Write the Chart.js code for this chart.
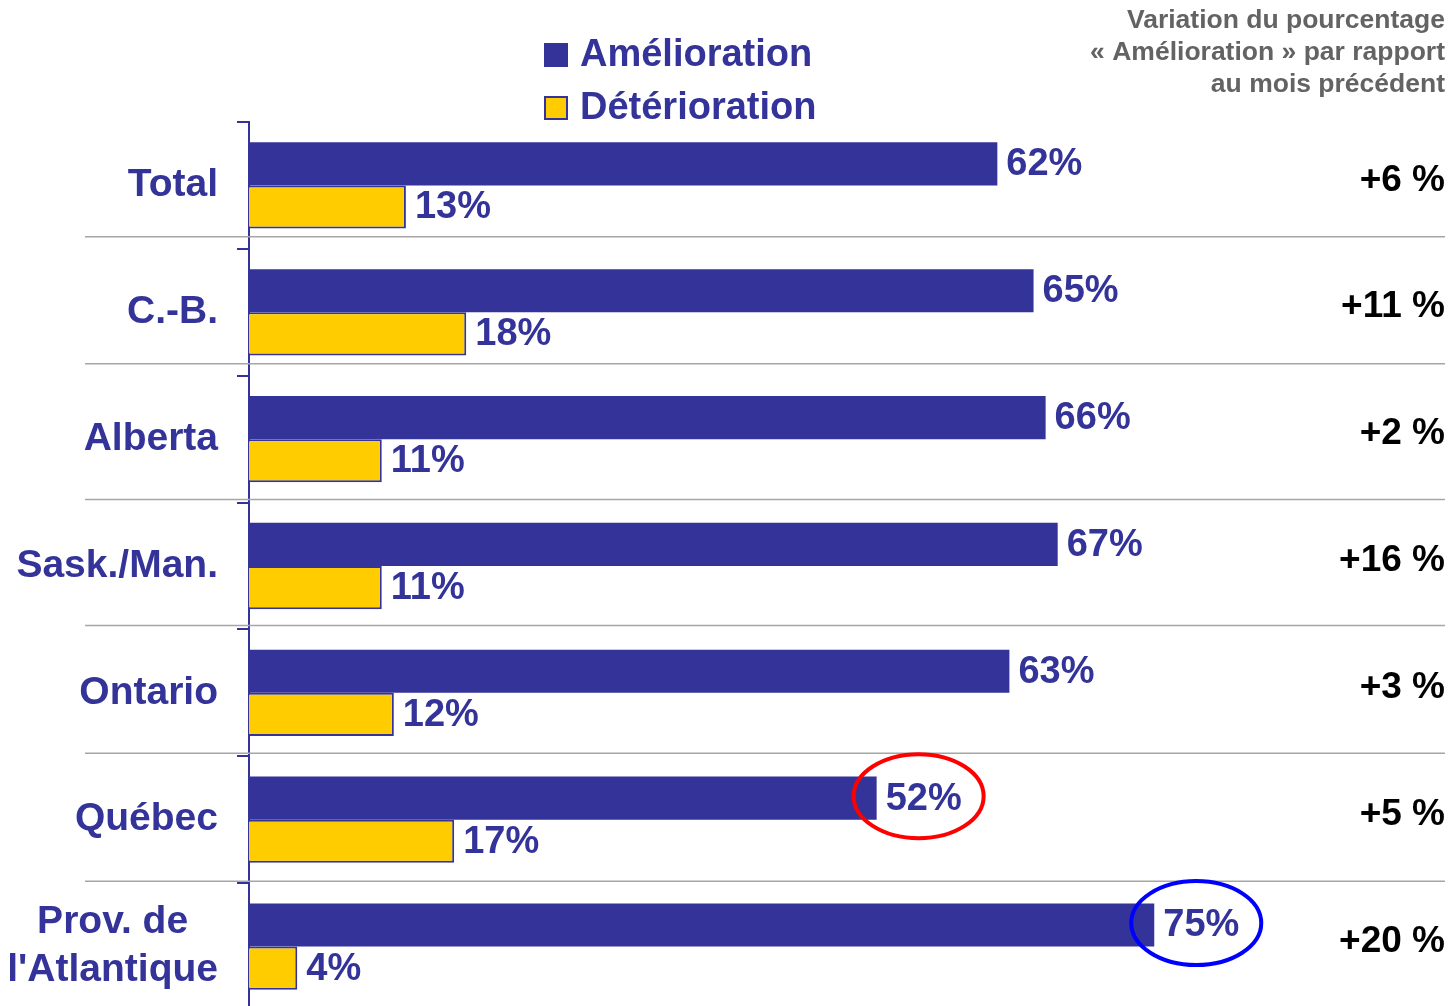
<!DOCTYPE html>
<html>
<head>
<meta charset="utf-8">
<script src="https://cdn.jsdelivr.net/npm/chart.js@4"></script>
<style>
  html, body { margin: 0; padding: 0; background: #fff; overflow: hidden; }
  canvas { display: block; }
</style>
</head>
<body>
<canvas id="chart" width="1456" height="1010"></canvas>
<script>
// data
const categories = ['Total', 'C.-B.', 'Alberta', 'Sask./Man.', 'Ontario', 'Québec', ['Prov. de', "l'Atlantique"]];
const amelioration = [62, 65, 66, 67, 63, 52, 75];
const deterioration = [13, 18, 11, 11, 12, 17, 4];
const variation = ['+6 %', '+11 %', '+2 %', '+16 %', '+3 %', '+5 %', '+20 %'];
const circled = [null, null, null, null, null, '#ff0000', '#0000ff'];
const titleLines = ['Variation du pourcentage', '« Amélioration » par rapport', 'au mois précédent'];

const BLUE = '#333399';
const YELLOW = '#ffcc00';
const FONT = '"Liberation Sans", Arial, sans-serif';
// the row separators in the original sit a little above the axis ticks
const sepShift = [-12, -12, -3, -4, -3, -2];

const extras = {
    id: 'extras',
    beforeDatasetsDraw(chart) {
        const ctx = chart.ctx;
        const y = chart.scales.y;
        ctx.save();
        ctx.strokeStyle = '#a6a6a6';
        ctx.lineWidth = 1.5;
        for (let i = 1; i < categories.length; i++) {
            const yy = (y.getPixelForValue(i - 1) + y.getPixelForValue(i)) / 2 + sepShift[i - 1];
            ctx.beginPath();
            ctx.moveTo(85, yy);
            ctx.lineTo(1445, yy);
            ctx.stroke();
        }
        ctx.restore();
    },
    afterDatasetsDraw(chart) {
        const ctx = chart.ctx;
        const y = chart.scales.y;
        ctx.save();

        // value labels
        ctx.font = 'bold 38px ' + FONT;
        ctx.fillStyle = BLUE;
        ctx.textAlign = 'left';
        ctx.textBaseline = 'middle';
        chart.data.datasets.forEach((ds, di) => {
            chart.getDatasetMeta(di).data.forEach((bar, i) => {
                ctx.fillText(ds.data[i] + '%', bar.x + 9, bar.y + 1);
            });
        });

        // circles around some labels
        const meta0 = chart.getDatasetMeta(0);
        circled.forEach((c, i) => {
            if (!c) return;
            const bar = meta0.data[i];
            ctx.strokeStyle = c;
            ctx.lineWidth = 4;
            ctx.beginPath();
            ctx.ellipse(bar.x + 42, bar.y - 2, 65, 42, 0, 0, Math.PI * 2);
            ctx.stroke();
        });

        // category labels
        ctx.font = 'bold 39px ' + FONT;
        ctx.fillStyle = BLUE;
        ctx.textAlign = 'center';
        categories.forEach((cat, i) => {
            const lines = Array.isArray(cat) ? cat : [cat];
            const w = Math.max(...lines.map(l => ctx.measureText(l).width));
            const cx = 218 - w / 2;
            const cy = y.getPixelForValue(i);
            const lh = 48;
            lines.forEach((l, k) => {
                ctx.fillText(l, cx, cy + (k - (lines.length - 1) / 2) * lh);
            });
        });

        // variation column
        ctx.font = 'bold 37px ' + FONT;
        ctx.fillStyle = '#000';
        ctx.textAlign = 'right';
        variation.forEach((v, i) => {
            ctx.fillText(v, 1445, y.getPixelForValue(i) - 5);
        });

        // top right note
        ctx.font = 'bold 26.5px ' + FONT;
        ctx.fillStyle = '#636363';
        titleLines.forEach((t, k) => {
            ctx.fillText(t, 1445, 21 + k * 32);
        });

        // legend
        ctx.textAlign = 'left';
        chart.data.datasets.forEach((ds, di) => {
            const ly = 55 + di * 53;
            ctx.fillStyle = ds.backgroundColor;
            ctx.fillRect(544, ly - 12, 24, 24);
            if (ds.borderWidth) {
                ctx.strokeStyle = ds.borderColor;
                ctx.lineWidth = 2;
                ctx.strokeRect(545, ly - 11, 22, 22);
            }
            ctx.font = 'bold 38px ' + FONT;
            ctx.fillStyle = BLUE;
            ctx.fillText(ds.label, 580, ly + 1);
        });
        ctx.restore();
    }
};

new Chart(document.getElementById('chart'), {
    type: 'bar',
    data: {
        labels: categories,
        datasets: [
            {
                label: 'Amélioration',
                data: amelioration,
                backgroundColor: BLUE,
                borderWidth: 0
            },
            {
                label: 'Détérioration',
                data: deterioration,
                backgroundColor: YELLOW,
                borderColor: BLUE,
                borderWidth: 2
            }
        ]
    },
    options: {
        indexAxis: 'y',
        responsive: false,
        animation: false,
        layout: { padding: { top: 122, right: 0, bottom: 0, left: 0 } },
        datasets: {
            bar: { categoryPercentage: 0.68, barPercentage: 1.0 }
        },
        scales: {
            x: { display: false, min: 0, max: 100 },
            y: {
                ticks: { display: false },
                grid: {
                    offset: true,
                    drawOnChartArea: false,
                    drawTicks: true,
                    tickLength: 12,
                    color: BLUE,
                    lineWidth: 2
                },
                border: { color: BLUE, width: 2 },
                afterFit(scale) { scale.width = 249; }
            }
        },
        plugins: {
            legend: { display: false },
            tooltip: { enabled: false }
        }
    },
    plugins: [extras]
});
</script>
</body>
</html>
